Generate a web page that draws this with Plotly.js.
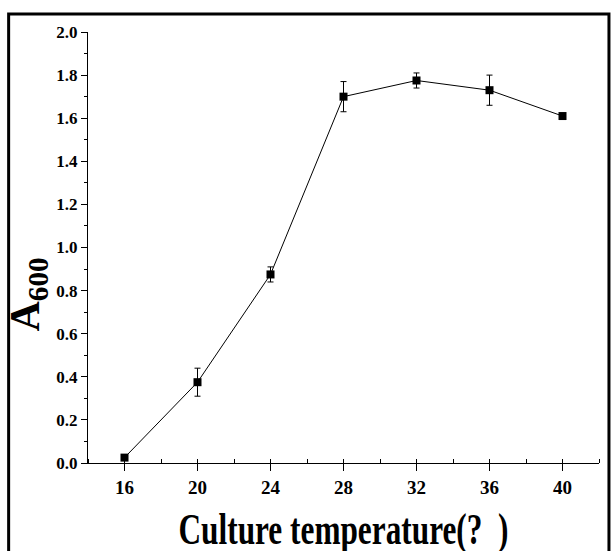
<!DOCTYPE html>
<html>
<head>
<meta charset="utf-8">
<script src="https://cdn.plot.ly/plotly-3.0.1.min.js"></script>
<style>
  html, body { margin: 0; padding: 0; background: #fff; }
  #chart { width: 611px; height: 551px; }
</style>
</head>
<body>
<div id="chart"></div>
<script>
// Data
const temperature = [16, 20, 24, 28, 32, 36, 40];
const a600 = [0.025, 0.375, 0.875, 1.700, 1.775, 1.730, 1.610];
const a600Error = [0.0, 0.065, 0.035, 0.070, 0.035, 0.070, 0.010];
const xTickValues = [16, 20, 24, 28, 32, 36, 40];
const xTickLabels = ["16", "20", "24", "28", "32", "36", "40"];
const yTickValues = [0.0, 0.2, 0.4, 0.6, 0.8, 1.0, 1.2, 1.4, 1.6, 1.8, 2.0];
const yTickLabels = ["0.0", "0.2", "0.4", "0.6", "0.8", "1.0", "1.2", "1.4", "1.6", "1.8", "2.0"];
const xTitle = "Culture temperature(?  )";
const yTitle = "A<sub>600</sub>";

const serif = "Liberation Serif, Times New Roman, serif";
const xTitleSize = 44;

const trace = {
  x: temperature,
  y: a600,
  type: "scatter",
  mode: "lines+markers",
  line: { color: "#000", width: 1 },
  marker: { symbol: "square", size: 8, color: "#000" },
  error_y: { type: "data", array: a600Error, visible: true, color: "#000", thickness: 1, width: 3 },
  showlegend: false,
  cliponaxis: false
};

const layout = {
  width: 611,
  height: 551,
  margin: { l: 87.5, r: 11.5, t: 32, b: 88, pad: 0 },
  paper_bgcolor: "#fff",
  plot_bgcolor: "#fff",
  showlegend: false,
  xaxis: {
    range: [14, 42],
    tickmode: "array",
    tickvals: xTickValues,
    ticktext: xTickLabels.map(s => "<b>" + s + "</b>"),
    ticks: "outside",
    ticklen: 7,
    tickwidth: 1,
    tickcolor: "#000",
    showline: true,
    linecolor: "#000",
    linewidth: 1,
    showgrid: false,
    zeroline: false,
    minor: { dtick: 2, tick0: 14, ticks: "inside", ticklen: 4, tickwidth: 1, tickcolor: "#000", showgrid: false },
    tickfont: { family: serif, size: 19, color: "#000", weight: "bold" },
    title: { text: "<b>" + xTitle + "</b>", font: { family: serif, size: xTitleSize, color: "#000", weight: "bold" }, standoff: 32 },
    automargin: false
  },
  yaxis: {
    range: [0, 2.0],
    tickmode: "array",
    tickvals: yTickValues,
    ticktext: yTickLabels.map(s => "<b>" + s + "</b>"),
    ticks: "outside",
    ticklen: 6,
    tickwidth: 1,
    tickcolor: "#000",
    showline: true,
    linecolor: "#000",
    linewidth: 1,
    showgrid: false,
    zeroline: false,
    minor: { dtick: 0.1, tick0: 0, ticks: "outside", ticklen: 3, tickwidth: 1, tickcolor: "#000", showgrid: false },
    tickfont: { family: serif, size: 17, color: "#000", weight: "bold" },
    automargin: false
  },
  annotations: [{
    text: "<b>" + yTitle + "</b>",
    xref: "paper", yref: "paper",
    x: -0.118, y: 0.39,
    xanchor: "center", yanchor: "middle",
    textangle: -90,
    showarrow: false,
    font: { family: serif, size: 42, color: "#000", weight: "bold" }
  }],
  shapes: [{
    type: "rect",
    xref: "paper", yref: "paper",
    x0: -0.1553, x1: 1.0195, y0: -0.22, y1: 1.0418,
    line: { color: "#000", width: 3 },
    fillcolor: "rgba(0,0,0,0)",
    layer: "above"
  }]
};

Plotly.newPlot("chart", [trace], layout, { staticPlot: true, displayModeBar: false }).then(function () {
  const t = document.querySelector("#chart .xtitle");
  if (t) {
    t.setAttribute("textLength", "330");
    t.setAttribute("lengthAdjust", "spacingAndGlyphs");
    t.setAttribute("y", "563");
    t.removeAttribute("transform");
  }
});
</script>
</body>
</html>
